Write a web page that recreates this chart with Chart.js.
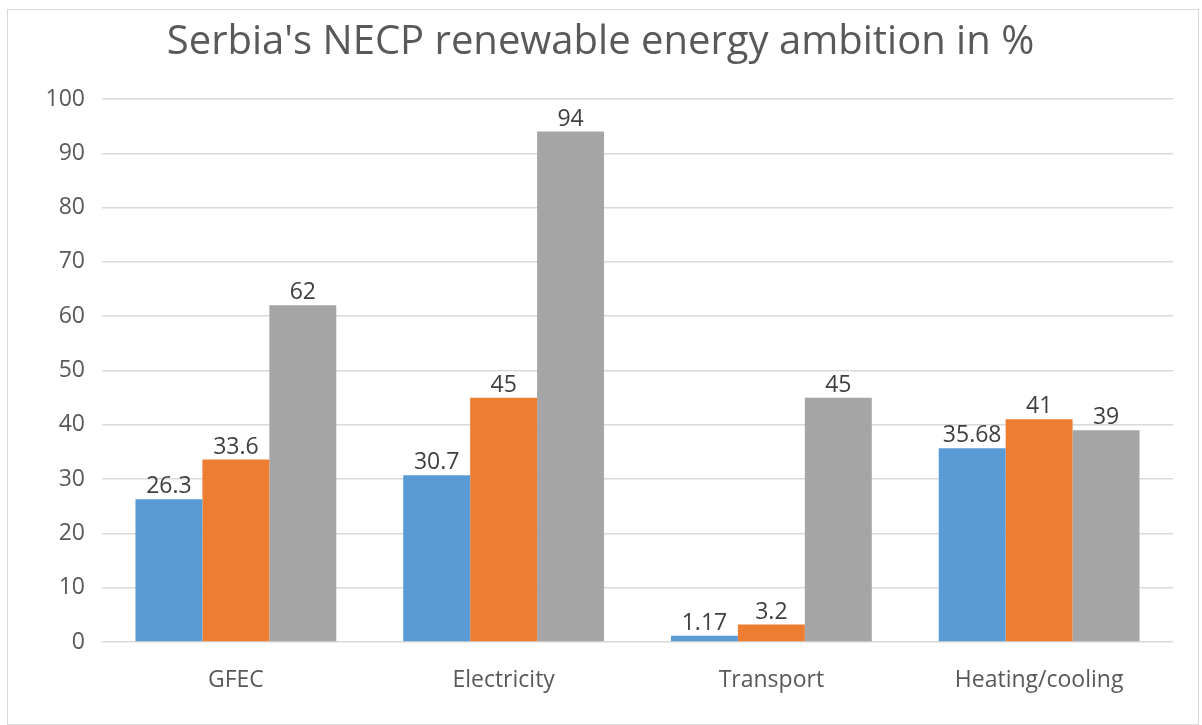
<!DOCTYPE html>
<html>
<head>
<meta charset="utf-8">
<script src="https://cdn.jsdelivr.net/npm/chart.js@4"></script>
<style>
    html, body { margin: 0; padding: 0; background: #fff; }
    #wrap {
        position: absolute;
        left: 7px;
        top: 9px;
        width: 1190px;
        height: 714px;
        border: 1px solid #d9d9d9;
        background: #fff;
    }
</style>
</head>
<body>
<div id="wrap"><canvas id="chart"></canvas></div>
<script>
// 카테고리 및 시리즈 값
const categories = ['GFEC', 'Electricity', 'Transport', 'Heating/cooling'];
const series1 = [26.3, 30.7, 1.17, 35.68];
const series2 = [33.6, 45, 3.2, 41];
const series3 = [62, 94, 45, 39];
const yTicks = [0, 10, 20, 30, 40, 50, 60, 70, 80, 90, 100];

const fontFamily = '"Open Sans", "Noto Sans", sans-serif';
const labelSize = 23;

// 막대 위에 값 표시
const valueLabels = {
    id: 'valueLabels',
    afterDatasetsDraw(chart) {
        const ctx = chart.ctx;
        ctx.save();
        ctx.font = labelSize + 'px ' + fontFamily;
        ctx.fillStyle = '#404040';
        ctx.textAlign = 'center';
        ctx.textBaseline = 'alphabetic';
        chart.data.datasets.forEach((ds, i) => {
            chart.getDatasetMeta(i).data.forEach((bar, j) => {
                ctx.fillText(String(ds.data[j]), bar.x, bar.y - 6);
            });
        });
        ctx.restore();
    }
};

new Chart(document.getElementById('chart').getContext('2d'), {
    type: 'bar',
    data: {
        labels: categories,
        datasets: [
            { label: 'Series 1', data: series1, backgroundColor: '#5b9bd5' },
            { label: 'Series 2', data: series2, backgroundColor: '#ed7d31' },
            { label: 'Series 3', data: series3, backgroundColor: '#a5a5a5' }
        ]
    },
    options: {
        responsive: true,
        maintainAspectRatio: false,
        animation: false,
        datasets: {
            bar: { categoryPercentage: 0.75, barPercentage: 1.0 }
        },
        layout: { padding: { left: 20, right: 25, top: 0, bottom: 0 } },
        plugins: {
            legend: { display: false },
            tooltip: { enabled: false },
            title: {
                display: true,
                text: "Serbia's NECP renewable energy ambition in %",
                color: '#595959',
                font: { family: fontFamily, size: 40, weight: 'normal', lineHeight: 1.2 },
                padding: { top: 9, bottom: 32 }
            }
        },
        scales: {
            x: {
                afterFit(scale) { scale.height = 82; },
                grid: { display: false, drawTicks: false },
                border: { display: false },
                ticks: {
                    color: '#595959',
                    font: { family: fontFamily, size: labelSize },
                    padding: 25
                }
            },
            y: {
                min: 0,
                max: 100,
                afterFit(scale) { scale.width = 74; },
                afterBuildTicks(scale) {
                    scale.ticks = yTicks.map(v => ({ value: v }));
                },
                grid: { color: '#d9d9d9', lineWidth: 1.5, drawTicks: false },
                border: { display: false },
                ticks: {
                    color: '#595959',
                    font: { family: fontFamily, size: labelSize },
                    padding: 17
                }
            }
        }
    },
    plugins: [valueLabels]
});
</script>
</body>
</html>
